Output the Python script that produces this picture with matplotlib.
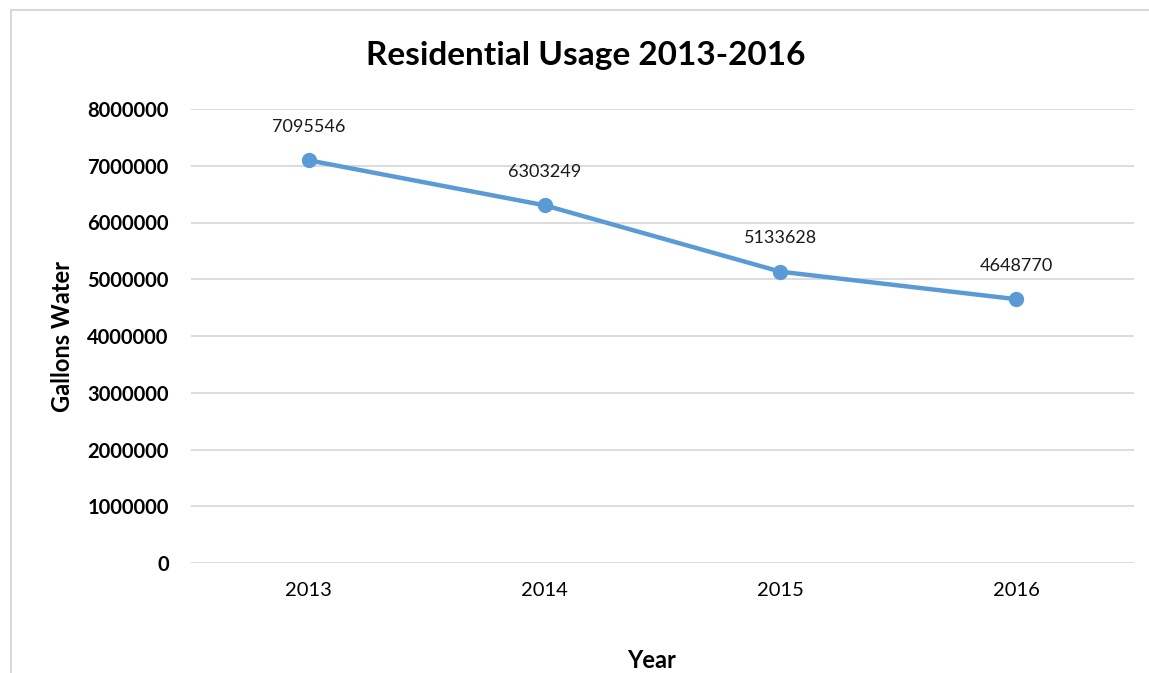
import matplotlib
matplotlib.use('Agg')
import matplotlib.pyplot as plt
from matplotlib.patches import Rectangle

years = ['2013', '2014', '2015', '2016']
usage = [7095546, 6303249, 5133628, 4648770]
yticks = [0, 1000000, 2000000, 3000000, 4000000, 5000000, 6000000, 7000000, 8000000]

plt.rcParams['font.family'] = ['Lato', 'DejaVu Sans']

fig = plt.figure(figsize=(11.49, 6.73), dpi=100)
ax = fig.add_axes([191 / 1149, 1 - 563 / 673, (1134 - 191) / 1149, (563 - 109) / 673])

# chart frame (cut off at right and bottom)
fig.patches.append(Rectangle((11 / 1149, -0.1), 1.2, 1 - 10 / 673 + 0.1,
                             transform=fig.transFigure, fill=False,
                             edgecolor='#d9d9d9', linewidth=1.5))

x = list(range(len(years)))
ax.plot(x, usage, color='#5b9bd5', linewidth=3.2, marker='o', markersize=10,
        solid_capstyle='round', zorder=3)
for xi, v in zip(x, usage):
    ax.annotate(str(v), (xi, v), xytext=(0, 24), textcoords='offset points',
                ha='center', va='center', fontsize=13, color='#1a1a1a')

ax.set_xlim(-0.5, 3.5)
ax.set_ylim(0, 8000000)
ax.set_yticks(yticks)
ax.set_yticklabels([str(t) for t in yticks], fontsize=14.5, fontweight='bold')
ax.set_xticks(x)
ax.set_xticklabels(years, fontsize=14.5)
ax.tick_params(length=0)
ax.tick_params(axis='y', pad=16)
ax.tick_params(axis='x', pad=14)
ax.grid(axis='y', color='#d9d9d9', linewidth=1.3)
ax.set_axisbelow(True)
for s in ax.spines.values():
    s.set_visible(False)

fig.text(586 / 1149, 1 - 55 / 673, 'Residential Usage 2013-2016', ha='center', va='center',
         fontsize=24, fontweight='bold')
fig.text(63 / 1149, 1 - 336 / 673, 'Gallons Water', ha='center', va='center', rotation=90,
         fontsize=17, fontweight='bold')
fig.text(652 / 1149, 1 - 660 / 673, 'Year', ha='center', va='center',
         fontsize=17, fontweight='bold')

fig.savefig('out.png', dpi=100)
